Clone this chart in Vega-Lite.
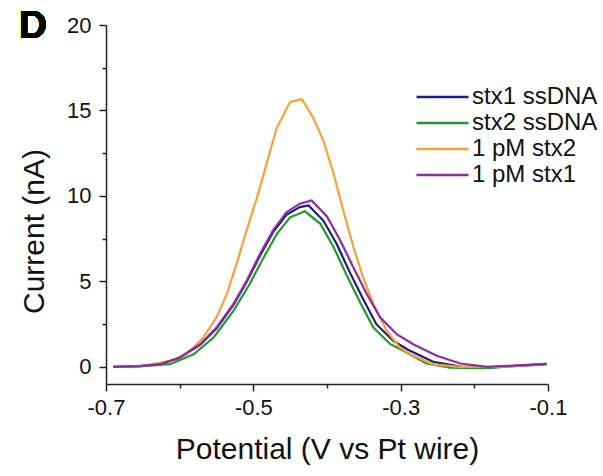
{
  "$schema": "https://vega.github.io/schema/vega-lite/v6.json",
  "width": 442,
  "height": 359,
  "autosize": {"type": "none"},
  "padding": {"left": 106, "top": 25, "right": 55, "bottom": 92},
  "config": {
    "font": "Liberation Sans",
    "view": {"stroke": null},
    "axis": {"grid": false, "labelFlush": false, "domainColor": "#222222", "domainWidth": 1.5, "tickColor": "#222222", "tickWidth": 1.5, "labelColor": "#111111", "titleColor": "#111111", "labelFont": "Liberation Sans", "titleFont": "Liberation Sans", "titleFontWeight": "normal"}
  },
  "data": {"values": [
    {"series": "stx1 ssDNA", "x": -0.690, "y": 0.0},
    {"series": "stx1 ssDNA", "x": -0.655, "y": 0.05},
    {"series": "stx1 ssDNA", "x": -0.627, "y": 0.15},
    {"series": "stx1 ssDNA", "x": -0.600, "y": 0.52},
    {"series": "stx1 ssDNA", "x": -0.572, "y": 1.3},
    {"series": "stx1 ssDNA", "x": -0.550, "y": 2.25},
    {"series": "stx1 ssDNA", "x": -0.527, "y": 3.62},
    {"series": "stx1 ssDNA", "x": -0.509, "y": 4.98},
    {"series": "stx1 ssDNA", "x": -0.491, "y": 6.5},
    {"series": "stx1 ssDNA", "x": -0.473, "y": 7.9},
    {"series": "stx1 ssDNA", "x": -0.455, "y": 8.9},
    {"series": "stx1 ssDNA", "x": -0.437, "y": 9.35},
    {"series": "stx1 ssDNA", "x": -0.425, "y": 9.44},
    {"series": "stx1 ssDNA", "x": -0.405, "y": 8.56},
    {"series": "stx1 ssDNA", "x": -0.387, "y": 7.2},
    {"series": "stx1 ssDNA", "x": -0.369, "y": 5.53},
    {"series": "stx1 ssDNA", "x": -0.351, "y": 3.97},
    {"series": "stx1 ssDNA", "x": -0.333, "y": 2.5},
    {"series": "stx1 ssDNA", "x": -0.310, "y": 1.52},
    {"series": "stx1 ssDNA", "x": -0.290, "y": 1.0},
    {"series": "stx1 ssDNA", "x": -0.256, "y": 0.3},
    {"series": "stx1 ssDNA", "x": -0.219, "y": 0.02},
    {"series": "stx1 ssDNA", "x": -0.183, "y": -0.04},
    {"series": "stx1 ssDNA", "x": -0.156, "y": 0.02},
    {"series": "stx1 ssDNA", "x": -0.102, "y": 0.16},

    {"series": "stx2 ssDNA", "x": -0.690, "y": 0.0},
    {"series": "stx2 ssDNA", "x": -0.655, "y": 0.03},
    {"series": "stx2 ssDNA", "x": -0.613, "y": 0.16},
    {"series": "stx2 ssDNA", "x": -0.581, "y": 0.74},
    {"series": "stx2 ssDNA", "x": -0.554, "y": 1.72},
    {"series": "stx2 ssDNA", "x": -0.527, "y": 3.28},
    {"series": "stx2 ssDNA", "x": -0.505, "y": 4.85},
    {"series": "stx2 ssDNA", "x": -0.486, "y": 6.4},
    {"series": "stx2 ssDNA", "x": -0.468, "y": 7.78},
    {"series": "stx2 ssDNA", "x": -0.450, "y": 8.75},
    {"series": "stx2 ssDNA", "x": -0.430, "y": 9.1},
    {"series": "stx2 ssDNA", "x": -0.409, "y": 8.37},
    {"series": "stx2 ssDNA", "x": -0.391, "y": 7.0},
    {"series": "stx2 ssDNA", "x": -0.373, "y": 5.34},
    {"series": "stx2 ssDNA", "x": -0.355, "y": 3.77},
    {"series": "stx2 ssDNA", "x": -0.337, "y": 2.3},
    {"series": "stx2 ssDNA", "x": -0.314, "y": 1.33},
    {"series": "stx2 ssDNA", "x": -0.292, "y": 0.84},
    {"series": "stx2 ssDNA", "x": -0.265, "y": 0.2},
    {"series": "stx2 ssDNA", "x": -0.233, "y": -0.04},
    {"series": "stx2 ssDNA", "x": -0.188, "y": -0.08},
    {"series": "stx2 ssDNA", "x": -0.156, "y": 0.02},
    {"series": "stx2 ssDNA", "x": -0.102, "y": 0.19},

    {"series": "1 pM stx2", "x": -0.690, "y": 0.0},
    {"series": "1 pM stx2", "x": -0.650, "y": 0.05},
    {"series": "1 pM stx2", "x": -0.613, "y": 0.35},
    {"series": "1 pM stx2", "x": -0.590, "y": 0.74},
    {"series": "1 pM stx2", "x": -0.568, "y": 1.72},
    {"series": "1 pM stx2", "x": -0.550, "y": 2.9},
    {"series": "1 pM stx2", "x": -0.536, "y": 4.26},
    {"series": "1 pM stx2", "x": -0.523, "y": 6.0},
    {"series": "1 pM stx2", "x": -0.509, "y": 8.0},
    {"series": "1 pM stx2", "x": -0.495, "y": 9.9},
    {"series": "1 pM stx2", "x": -0.482, "y": 11.9},
    {"series": "1 pM stx2", "x": -0.468, "y": 14.0},
    {"series": "1 pM stx2", "x": -0.450, "y": 15.5},
    {"series": "1 pM stx2", "x": -0.434, "y": 15.65},
    {"series": "1 pM stx2", "x": -0.419, "y": 14.6},
    {"series": "1 pM stx2", "x": -0.405, "y": 13.25},
    {"series": "1 pM stx2", "x": -0.391, "y": 11.3},
    {"series": "1 pM stx2", "x": -0.378, "y": 9.15},
    {"series": "1 pM stx2", "x": -0.364, "y": 7.0},
    {"series": "1 pM stx2", "x": -0.351, "y": 5.24},
    {"series": "1 pM stx2", "x": -0.337, "y": 3.68},
    {"series": "1 pM stx2", "x": -0.319, "y": 2.1},
    {"series": "1 pM stx2", "x": -0.301, "y": 1.13},
    {"series": "1 pM stx2", "x": -0.287, "y": 0.74},
    {"series": "1 pM stx2", "x": -0.256, "y": 0.15},
    {"series": "1 pM stx2", "x": -0.219, "y": 0.0},
    {"series": "1 pM stx2", "x": -0.165, "y": 0.0},
    {"series": "1 pM stx2", "x": -0.102, "y": 0.15},

    {"series": "1 pM stx1", "x": -0.690, "y": 0.0},
    {"series": "1 pM stx1", "x": -0.655, "y": 0.05},
    {"series": "1 pM stx1", "x": -0.627, "y": 0.16},
    {"series": "1 pM stx1", "x": -0.600, "y": 0.55},
    {"series": "1 pM stx1", "x": -0.572, "y": 1.33},
    {"series": "1 pM stx1", "x": -0.550, "y": 2.3},
    {"series": "1 pM stx1", "x": -0.527, "y": 3.68},
    {"series": "1 pM stx1", "x": -0.509, "y": 5.04},
    {"series": "1 pM stx1", "x": -0.491, "y": 6.6},
    {"series": "1 pM stx1", "x": -0.473, "y": 8.0},
    {"series": "1 pM stx1", "x": -0.455, "y": 9.05},
    {"series": "1 pM stx1", "x": -0.437, "y": 9.55},
    {"series": "1 pM stx1", "x": -0.421, "y": 9.74},
    {"series": "1 pM stx1", "x": -0.400, "y": 8.8},
    {"series": "1 pM stx1", "x": -0.382, "y": 7.4},
    {"series": "1 pM stx1", "x": -0.364, "y": 5.8},
    {"series": "1 pM stx1", "x": -0.346, "y": 4.26},
    {"series": "1 pM stx1", "x": -0.328, "y": 2.9},
    {"series": "1 pM stx1", "x": -0.305, "y": 1.9},
    {"series": "1 pM stx1", "x": -0.283, "y": 1.33},
    {"series": "1 pM stx1", "x": -0.251, "y": 0.65},
    {"series": "1 pM stx1", "x": -0.219, "y": 0.2},
    {"series": "1 pM stx1", "x": -0.183, "y": 0.0},
    {"series": "1 pM stx1", "x": -0.156, "y": 0.06},
    {"series": "1 pM stx1", "x": -0.102, "y": 0.16}
  ]},
  "layer": [
    {
      "mark": {"type": "line", "strokeWidth": 2.2},
      "encoding": {
        "x": {"field": "x", "type": "quantitative",
              "scale": {"domain": [-0.7, -0.1], "nice": false, "zero": false},
              "axis": {"values": [-0.7, -0.5, -0.3, -0.1], "format": ".1f", "labelExpr": "replace(datum.label, '\u2212', '-')", "tickSize": 7, "labelFontSize": 22, "labelPadding": 6, "title": "Potential (V vs Pt wire)", "titleFontSize": 30, "titlePadding": 16}},
        "y": {"field": "y", "type": "quantitative",
              "scale": {"domain": [-1, 20], "nice": false, "zero": false},
              "axis": {"values": [0, 5, 10, 15, 20], "tickSize": 7, "labelFontSize": 22, "labelPadding": 8, "title": "Current (nA)", "titleFontSize": 30, "titlePadding": 17, "titleY": 206}},
        "color": {"field": "series", "type": "nominal", "sort": null,
                  "scale": {"domain": ["stx1 ssDNA", "stx2 ssDNA", "1 pM stx2", "1 pM stx1"], "range": ["#1c1c80", "#23992a", "#f7a03a", "#8c2ca0"]},
                  "legend": {"orient": "none", "legendX": 309, "legendY": 59, "title": null, "symbolType": "stroke", "symbolSize": 2704, "symbolStrokeWidth": 2.5, "clipHeight": 26, "labelFontSize": 24, "labelOffset": 2, "rowPadding": 0, "padding": 0, "labelColor": "#111111"}},
        "order": {"field": "series", "type": "nominal"}
      }
    },
    {
      "mark": {"type": "line", "strokeOpacity": 0},
      "encoding": {
        "x": {"field": "x", "type": "quantitative",
              "axis": {"orient": "bottom", "values": [-0.6, -0.4, -0.2], "labels": false, "domain": false, "tickSize": 4, "title": null}},
        "y": {"field": "y", "type": "quantitative",
              "axis": {"orient": "left", "values": [2.5, 7.5, 12.5, 17.5], "labels": false, "domain": false, "tickSize": 4, "title": null}},
        "detail": {"field": "series", "type": "nominal"}
      }
    },
    {
      "mark": {"type": "text", "text": "D", "fontSize": 39, "fontWeight": "bold", "font": "Liberation Sans", "align": "left", "baseline": "alphabetic", "color": "#000000"},
      "encoding": {
        "x": {"datum": -0.8185, "type": "quantitative", "axis": null},
        "y": {"datum": 19.25, "type": "quantitative", "axis": null}
      }
    }
  ],
  "resolve": {"axis": {"x": "independent", "y": "independent"}}
}
